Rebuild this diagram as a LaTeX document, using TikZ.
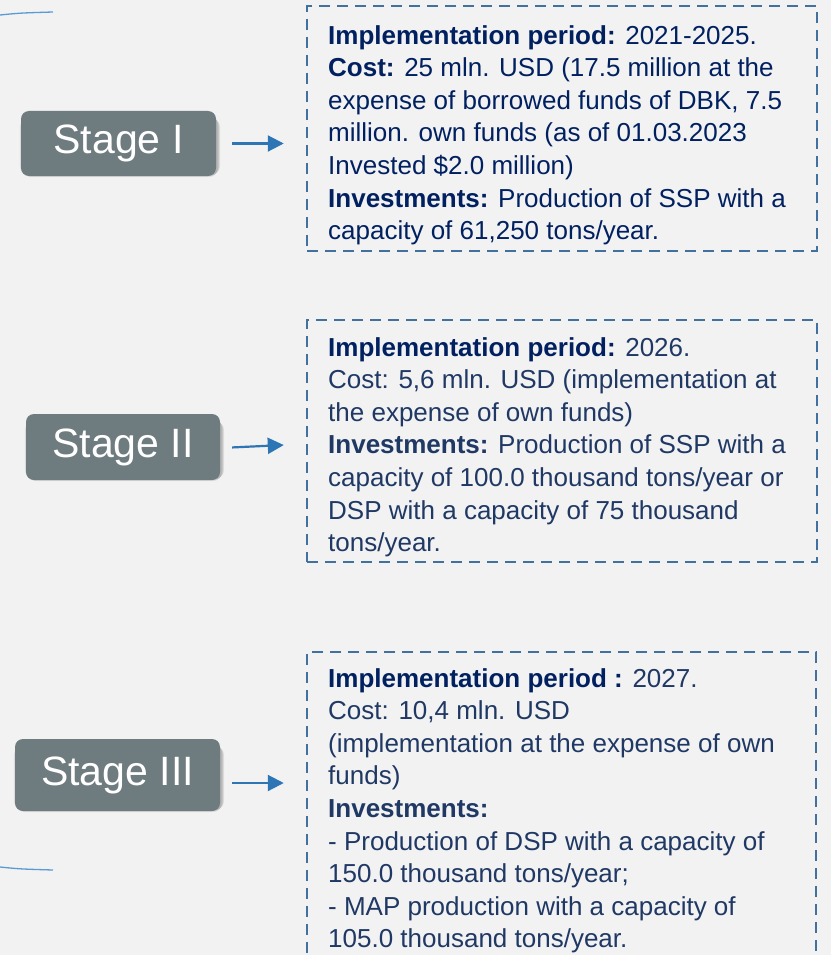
\documentclass[tikz,border=0pt]{standalone}
\usepackage{fontspec}
\setmainfont{Liberation Sans}
\usetikzlibrary{arrows.meta,backgrounds}

\definecolor{pagebg}{HTML}{F2F2F2}
\definecolor{stagefill}{HTML}{6E7B7F}
\definecolor{frameblue}{HTML}{41719C}
\definecolor{arrowblue}{HTML}{2E75B6}
\definecolor{curveblue}{HTML}{5B9BD5}
\definecolor{navy}{HTML}{002060}
\definecolor{navysoft}{HTML}{1F3864}

\tikzset{
  stagebox/.style={rounded corners=8pt, fill=stagefill, text=white,
    font=\fontsize{41}{48}\selectfont, inner sep=0pt},
  infoframe/.style={draw=frameblue, line width=2.5pt, dash pattern=on 11pt off 7pt, inner sep=0pt},
  infotext/.style={anchor=north west, inner sep=0pt, align=left,
    font=\fontsize{26}{32.6}\selectfont},
  flowarrow/.style={draw=arrowblue, line width=2.2pt,
    -{Triangle[length=16pt,width=16pt]}},
  sidecurve/.style={draw=curveblue, line width=1.3pt},
  softshade/.style={fill=black, fill opacity=0.07, rounded corners=9pt},
}

\begin{document}
\begin{tikzpicture}[x=1pt,y=-1pt]
  % page and background
  \useasboundingbox (0,0) rectangle (831,955);
  \clip (0,0) rectangle (831,955);

  % thin decorative strokes on the left edge
  \draw[sidecurve] (0,15) .. controls (20,13) .. (53,12);
  \draw[sidecurve] (0,867) .. controls (20,869) .. (53,870);

  % dashed frames
  \node[infoframe, minimum width=510pt, minimum height=245pt] (b1) at (562,128.5) {};
  \node[infoframe, minimum width=510pt, minimum height=242pt] (b2) at (562,441) {};
  \node[infoframe, minimum width=509pt, minimum height=330pt] (b3) at (561.5,817) {};

  % stage labels
  \node[stagebox, minimum width=195pt, minimum height=65pt] (s1) at (118.5,143.5) {Stage I};
  \node[stagebox, minimum width=194pt, minimum height=66pt] (s2) at (123,447) {Stage II};
  \node[stagebox, minimum width=205pt, minimum height=72pt] (s3) at (117.5,775) {Stage III};

  % page fill and soft shadows under the stage labels
  \begin{scope}[on background layer]
    \fill[pagebg] (0,0) rectangle (831,955);
    \foreach \n in {s1,s2,s3} {
      \foreach \g in {0,1,2,3} {
        \fill[softshade]
          ([xshift=1.5pt-\g*0.8pt, yshift=-1pt+\g*0.8pt]\n.south west)
          rectangle ([xshift=1.5pt+\g*0.8pt, yshift=-5pt-\g*0.8pt]\n.north east);
      }
    }
  \end{scope}

  % arrows from stages to frames
  \draw[flowarrow, shorten <=16pt, shorten >=22pt] (s1.east) -- (s1.east -| b1.west);
  \draw[flowarrow, shorten <=12pt, shorten >=22pt] ([yshift=-1pt]s2.east) -- ([yshift=3pt]s2.east -| b2.west);
  \draw[flowarrow, shorten <=12pt, shorten >=22pt] ([yshift=-8pt]s3.east) -- ([yshift=-8pt]s3.east -| b3.west);

  % frame contents
  \node[infotext, text=navy] (t1) at (328,25) {%
    \textbf{Implementation period:} 2021-2025.\\
    \textbf{Cost:} 25 mln. USD (17.5 million at the\\
    expense of borrowed funds of DBK, 7.5\\
    million. own funds (as of 01.03.2023\\
    Invested \$2.0 million)\\
    \textbf{Investments:} Production of SSP with a\\
    capacity of 61,250 tons/year.};

  \node[infotext, text=navysoft] (t2) at (328,337) {%
    \textcolor{navy}{\textbf{Implementation period:}} 2026.\\
    Cost: 5,6 mln. USD (implementation at\\
    the expense of own funds)\\
    \textbf{Investments:} Production of SSP with a\\
    capacity of 100.0 thousand tons/year or\\
    DSP with a capacity of 75 thousand\\
    tons/year.};

  \node[infotext, text=navysoft] (t3) at (328,668) {%
    \textcolor{navy}{\textbf{Implementation period :}} 2027.\\
    Cost: 10,4 mln. USD\\
    (implementation at the expense of own\\
    funds)\\
    \textbf{Investments:}\\
    - Production of DSP with a capacity of\\
    150.0 thousand tons/year;\\
    - MAP production with a capacity of\\
    105.0 thousand tons/year.};
\end{tikzpicture}
\end{document}
